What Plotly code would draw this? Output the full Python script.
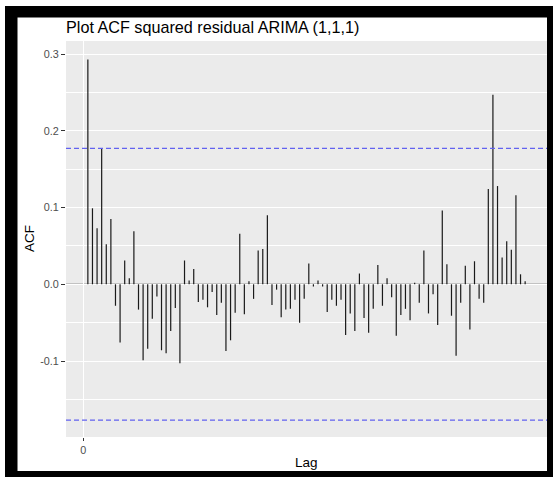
import plotly.graph_objects as go

# Squared-residual autocorrelations, lags 1..96
lags = list(range(1, 97))
acf_values = [
    0.293, 0.099, 0.073, 0.177, 0.052, 0.085, -0.028, -0.076, 0.031, 0.008,
    0.069, -0.033, -0.099, -0.084, -0.045, -0.016, -0.086, -0.090, -0.061, -0.031,
    -0.103, 0.031, 0.005, 0.020, -0.023, -0.020, -0.030, -0.010, -0.040, -0.024,
    -0.087, -0.073, -0.037, 0.066, -0.039, 0.004, -0.019, 0.044, 0.046, 0.090,
    -0.027, -0.007, -0.043, -0.033, -0.032, -0.020, -0.050, -0.019, 0.027, -0.003,
    0.005, -0.003, -0.036, -0.020, -0.028, -0.020, -0.066, -0.038, -0.061, 0.014,
    -0.044, -0.063, -0.032, 0.025, -0.028, 0.008, -0.017, -0.067, -0.040, -0.032,
    -0.047, 0.002, -0.024, 0.044, -0.038, -0.013, -0.053, 0.096, 0.026, -0.041,
    -0.093, -0.024, 0.024, -0.059, 0.030, -0.019, -0.024, 0.124, 0.247, 0.128,
    0.035, 0.056, 0.045, 0.116, 0.013, 0.004,
]
conf_bound = 0.177

y_tick_vals = [-0.1, 0.0, 0.1, 0.2, 0.3]
y_tick_text = ["-0.1", "0.0", "0.1", "0.2", "0.3"]
y_minor_vals = [-0.15, -0.05, 0.05, 0.15, 0.25]
x_tick_vals = [0]
x_tick_text = ["0"]

FONT = "Liberation Sans, Arial, sans-serif"
W, H = 553, 477
ML, MR, MT, MB = 66, 6, 41, 40
PW, PH = W - ML - MR, H - MT - MB

# vertical segments from zero to each autocorrelation
seg_x, seg_y = [], []
for lag, v in zip(lags, acf_values):
    seg_x += [lag, lag, None]
    seg_y += [0, v, None]

fig = go.Figure()
fig.add_trace(go.Scatter(
    x=seg_x, y=seg_y, mode="lines",
    line=dict(color="#1a1a1a", width=1.2),
    hoverinfo="skip", showlegend=False,
))

fig.add_hline(y=0, line=dict(color="#4a4a4a", width=1.2), layer="below")
for b in (conf_bound, -conf_bound):
    fig.add_hline(y=b, line=dict(color="#6262f0", width=1.2, dash="5px,3px"))


def px_x(p):
    return (p - ML) / PW


def px_y(r):
    return (H - MB - r) / PH


# black picture frame around the whole graphic
frame = [
    (5, 6, 17.5, 477),     # left
    (5, 6, 553, 17.5),     # top
    (547, 6, 553, 477),    # right
    (5, 471, 553, 477),    # bottom
]
for x0, y0, x1, y1 in frame:
    fig.add_shape(type="rect", xref="paper", yref="paper",
                  x0=px_x(x0), x1=px_x(x1), y0=px_y(y1), y1=px_y(y0),
                  fillcolor="black", line=dict(width=0), layer="above")

# axis titles
fig.add_annotation(text="Lag", xref="paper", yref="paper",
                   x=0.5, y=px_y(462), xanchor="center", yanchor="middle",
                   showarrow=False, font=dict(size=13.5, color="black", family=FONT))
fig.add_annotation(text="ACF", xref="paper", yref="paper", textangle=-90,
                   x=px_x(29), y=0.5, xanchor="center", yanchor="middle",
                   showarrow=False, font=dict(size=13.5, color="black", family=FONT))

fig.update_layout(
    width=W, height=H,
    margin=dict(l=ML, r=MR, t=MT, b=MB),
    paper_bgcolor="white", plot_bgcolor="#EBEBEB",
    font=dict(family=FONT, color="black"),
    title=dict(text="Plot ACF squared residual ARIMA (1,1,1)",
               font=dict(size=16.2, color="black", family=FONT),
               xref="paper", x=0, xanchor="left",
               yref="container", y=1 - 27 / H, yanchor="middle"),
    showlegend=False,
)
fig.update_xaxes(
    range=[-3.75, 100.75], tickvals=x_tick_vals, ticktext=x_tick_text,
    showgrid=True, gridcolor="white", gridwidth=1.1, zeroline=False,
    ticks="outside", ticklen=3, tickwidth=1, tickcolor="#333333",
    tickfont=dict(size=10.8, color="#4D4D4D"),
)
fig.update_yaxes(
    range=[-0.199, 0.317], tickvals=y_tick_vals, ticktext=y_tick_text,
    showgrid=True, gridcolor="white", gridwidth=1.1, zeroline=False,
    minor=dict(tickvals=y_minor_vals, showgrid=True, gridcolor="white", gridwidth=0.6, ticks=""),
    ticks="outside", ticklen=4, tickwidth=1, tickcolor="#333333",
    tickfont=dict(size=10.8, color="#4D4D4D"),
)

fig.write_html("out.html")
